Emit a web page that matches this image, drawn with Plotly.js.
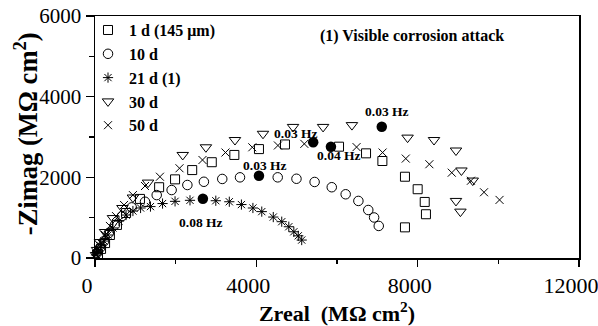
<!DOCTYPE html>
<html>
<head>
<meta charset="utf-8">
<script src="https://cdn.plot.ly/plotly-3.0.1.min.js"></script>
<style>
  html, body { margin: 0; padding: 0; background: #fff; }
  #chart { width: 598px; height: 326px; }
</style>
</head>
<body>
<div id="chart"></div>
<script>
// Nyquist impedance spectra, Zreal vs -Zimag in MΩ cm², after several immersion times
const seriesNames = ['1 d (145 μm)', '10 d', '21 d (1)', '30 d', '50 d'];

const day1Re  = [75, 150, 250, 370, 545, 770, 1115, 1590, 1985, 2410, 2895, 3455, 4065, 4710, 6050, 6720, 7125, 7685, 8000, 8175, 8205, 7685];
const day1Im  = [100, 225, 370, 570, 820, 1115, 1465, 1755, 1950, 2180, 2375, 2555, 2700, 2815, 2760, 2595, 2405, 2015, 1705, 1390, 1085, 760];

const day10Re = [50, 125, 225, 345, 495, 670, 910, 1240, 1530, 1900, 2290, 2700, 3155, 3595, 4530, 4995, 5445, 5870, 6215, 6530, 6775, 6920, 7035];
const day10Im = [125, 250, 420, 620, 820, 1040, 1255, 1395, 1560, 1685, 1810, 1890, 1960, 2000, 2000, 1965, 1885, 1755, 1580, 1415, 1190, 1005, 795];

const day21Re = [25, 75, 150, 225, 320, 445, 595, 770, 940, 1130, 1375, 1675, 1985, 2355, 2995, 3330, 3630, 3915, 4135, 4420, 4630, 4805, 4930, 5040, 5125];
const day21Im = [75, 175, 300, 420, 570, 745, 915, 1065, 1165, 1240, 1275, 1350, 1405, 1430, 1420, 1395, 1325, 1240, 1150, 1015, 900, 775, 650, 550, 445];

const day30Re = [25, 50, 125, 250, 445, 680, 940, 1315, 2175, 2750, 3470, 4165, 4910, 5655, 6370, 7750, 8405, 8950, 9085, 9365, 8950, 9060];
const day30Im = [75, 200, 395, 645, 990, 1240, 1500, 1870, 2555, 2745, 2925, 3080, 3250, 3250, 3295, 2985, 2925, 2665, 2170, 1920, 1415, 1150];

const day50Re = [25, 75, 150, 250, 370, 520, 720, 940, 1240, 1610, 2095, 2665, 3235, 3900, 4535, 5190, 6485, 7130, 7705, 8290, 8845, 9320, 9645, 10030];
const day50Im = [100, 225, 370, 570, 795, 1040, 1315, 1560, 1785, 2015, 2225, 2430, 2615, 2745, 2790, 2830, 2750, 2615, 2465, 2325, 2115, 1915, 1630, 1440];

// points measured at the marked frequencies (filled symbols)
const freqRe    = [2675, 4065, 5410, 5850, 7110];
const freqIm    = [1470, 2040, 2870, 2760, 3255];
const freqLabel = ['0.08 Hz', '0.03 Hz', '0.03 Hz', '0.04 Hz', '0.03 Hz'];

const xTicks = [0, 4000, 8000, 12000];
const yTicks = [0, 2000, 4000, 6000];

const FONT = 'Liberation Serif, Times New Roman, serif';

const symbolStyle = [
  { symbol: 'square-open',        size: 9 },
  { symbol: 'circle-open',        size: 9.5 },
  { symbol: 'asterisk-open',      size: 8.5 },
  { symbol: 'triangle-down-open', size: 10 },
  { symbol: 'x-thin-open',        size: 8 }
];
const xs = [day1Re, day10Re, day21Re, day30Re, day50Re];
const ys = [day1Im, day10Im, day21Im, day30Im, day50Im];

const traces = seriesNames.map((name, i) => ({
  type: 'scatter',
  mode: 'markers',
  name: '<b>' + name + '</b>',
  x: xs[i],
  y: ys[i],
  marker: {
    symbol: symbolStyle[i].symbol,
    size: symbolStyle[i].size,
    color: '#000',
    line: { color: '#000', width: 1 }
  },
  cliponaxis: false
}));

traces.push({
  type: 'scatter',
  mode: 'markers',
  x: freqRe,
  y: freqIm,
  showlegend: false,
  marker: { symbol: 'circle', size: 10.5, color: '#000' },
  hoverinfo: 'skip'
});

// pixel offsets of each frequency label from its point
const labelShift = [[-2, -24], [6, 10], [-17, 9], [8, -9], [5, 15]];
const freqNotes = freqLabel.map((t, i) => ({
  x: freqRe[i], y: freqIm[i], xref: 'x', yref: 'y',
  xanchor: 'center', yanchor: 'middle',
  text: '<b>' + t + '</b>',
  showarrow: false,
  xshift: labelShift[i][0], yshift: labelShift[i][1],
  font: { family: FONT, size: 13.5, color: '#000' }
}));

const layout = {
  width: 598,
  height: 326,
  margin: { l: 95, r: 19, t: 16, b: 68 },
  paper_bgcolor: '#fff',
  plot_bgcolor: '#fff',
  font: { family: FONT, color: '#000' },
  showlegend: true,
  legend: {
    x: -0.0165, y: 1.012, xanchor: 'left', yanchor: 'top',
    bgcolor: 'rgba(0,0,0,0)',
    itemwidth: 32,
    font: { family: FONT, size: 16, color: '#000' },
    tracegroupgap: 0
  },
  xaxis: {
    range: [0, 12000],
    tickvals: xTicks,
    ticktext: xTicks.map(String),
    ticks: 'outside', ticklen: 7, tickwidth: 1.2, tickcolor: '#000',
    ticklabelshift: -8,
    ticklabeloverflow: 'allow',
    minor: { dtick: 2000, tick0: 0, ticks: 'outside', ticklen: 4, tickwidth: 1.2, tickcolor: '#000' },
    showline: true, linecolor: '#000', linewidth: 1.5, mirror: true,
    showgrid: false, zeroline: false,
    tickfont: { family: FONT, size: 22, color: '#000' },
    title: { text: '<b>Zreal&nbsp; (MΩ cm<sup>2</sup>)</b>', font: { family: FONT, size: 22, color: '#000' }, standoff: 6 }
  },
  yaxis: {
    range: [0, 6000],
    tickvals: yTicks,
    ticktext: yTicks.map(String),
    ticks: 'outside', ticklen: 8, tickwidth: 1.2, tickcolor: '#000',
    minor: { dtick: 1000, tick0: 0, ticks: 'outside', ticklen: 5, tickwidth: 1.2, tickcolor: '#000' },
    showline: true, linecolor: '#000', linewidth: 1.5, mirror: true,
    showgrid: false, zeroline: false,
    tickfont: { family: FONT, size: 21, color: '#000' }
  },
  annotations: [
    {
      // vertical axis title, placed by hand left of the tick labels
      x: -0.1425, y: 0.512, xref: 'paper', yref: 'paper',
      xanchor: 'center', yanchor: 'middle',
      textangle: -90,
      text: '<b>-Zimag (MΩ cm<sup>2</sup>)</b>',
      showarrow: false,
      font: { family: FONT, size: 26.5, color: '#000' }
    },
    {
      x: 0.655, y: 0.917, xref: 'paper', yref: 'paper',
      xanchor: 'center', yanchor: 'middle',
      text: '<b>(1) Visible corrosion attack</b>',
      showarrow: false,
      font: { family: FONT, size: 16, color: '#000' }
    }
  ].concat(freqNotes)
};

Plotly.newPlot('chart', traces, layout, { displayModeBar: false, staticPlot: true });
</script>
</body>
</html>
